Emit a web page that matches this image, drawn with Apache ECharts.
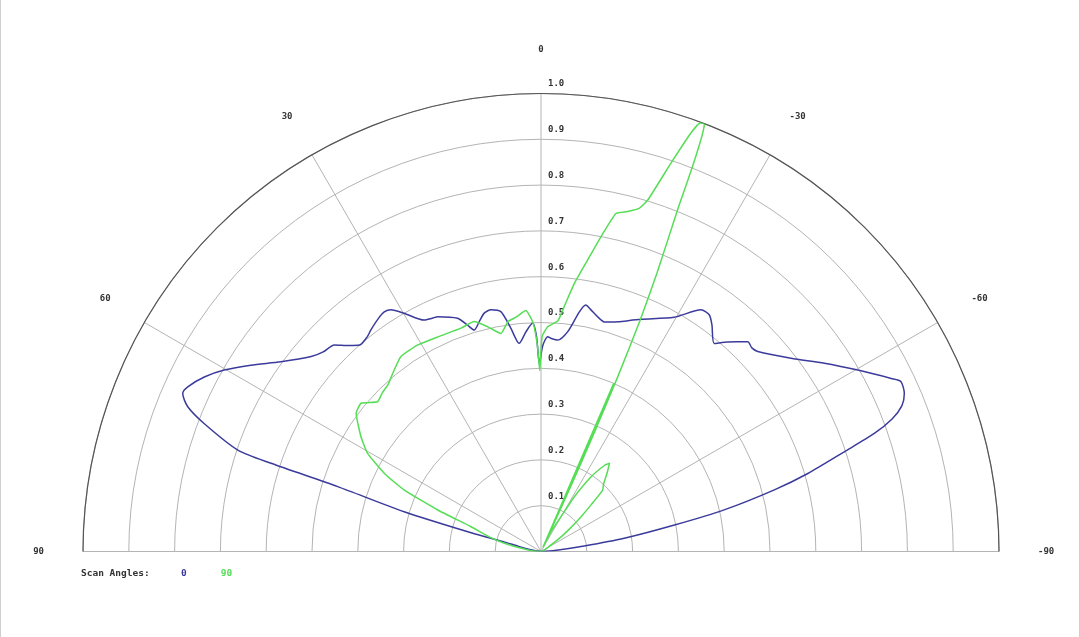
<!DOCTYPE html>
<html><head><meta charset="utf-8">
<script src="https://cdn.jsdelivr.net/npm/echarts@6/dist/echarts.min.js"></script>
<style>
html,body{margin:0;padding:0;background:#fff;}
#c{width:1080px;height:637px;box-sizing:border-box;border-left:1px solid #cfcfcf;border-right:1px solid #cfcfcf;}
</style>
</head><body><div id="c"></div>
<script>
// ---- data ----
const angleTicks = [-90, -60, -30, 0, 30, 60, 90];
const radiusTickLabels = ['', '0.1', '0.2', '0.3', '0.4', '0.5', '0.6', '0.7', '0.8', '0.9', '1.0'];
const scanAngles = ['0', '90'];
const legendTitle = 'Scan Angles:';

// Scan angle 0 (blue): angle in degrees, normalized radius
const blueTheta = [90, 80, 77, 75.6, 75, 73.8, 72.3, 71.9, 71.5, 69.2, 67.7, 66.2, 65, 62.6, 60.2, 57.3, 53.9, 49.7, 47.5, 45, 43, 41.3, 39, 37.5, 35, 33.2, 31.8, 29.9, 26.8, 25, 23.7, 19.7, 18, 16.8, 15, 13.4, 11.7, 9.5, 7.7, 6.0, 3.9, 2.1, 1.2, 0.5, -0.5, -1.8, -3, -4.5, -6.9, -9.1, -10.3, -11.5, -13.6, -15.4, -17, -18.5, -23.3, -29.6, -33.5, -35.4, -37, -39.8, -41.7, -44.6, -46, -47.3, -52.3, -56.4, -60.2, -63.7, -64.7, -66.5, -68, -69.3, -70.5, -71.8, -73.7, -75.2, -77.2, -78.8, -81, -82.8, -86, -90];
const blueR = [0, 0.02, 0.05, 0.08, 0.158, 0.311, 0.466, 0.62, 0.698, 0.787, 0.834, 0.855, 0.851, 0.828, 0.797, 0.753, 0.703, 0.658, 0.645, 0.638, 0.615, 0.600, 0.603, 0.610, 0.62, 0.625, 0.621, 0.600, 0.566, 0.562, 0.560, 0.541, 0.52, 0.505, 0.52, 0.535, 0.539, 0.531, 0.492, 0.457, 0.481, 0.499, 0.47, 0.41, 0.45, 0.469, 0.465, 0.463, 0.483, 0.53, 0.547, 0.54, 0.527, 0.52, 0.524, 0.529, 0.552, 0.588, 0.633, 0.634, 0.62, 0.591, 0.613, 0.643, 0.64, 0.644, 0.690, 0.743, 0.797, 0.853, 0.869, 0.865, 0.85, 0.82, 0.772, 0.697, 0.607, 0.527, 0.41, 0.297, 0.184, 0.095, 0.03, 0];

// Scan angle 90 (green)
const greenTheta = [90, 85, 80, 77.4, 74, 70.5, 68.1, 65.8, 63.5, 60.5, 57.5, 53.2, 50.5, 47.5, 45, 42.6, 39.8, 35.7, 30.8, 25.7, 19.7, 16.2, 13.3, 10.4, 8.2, 6, 3.6, 2, 1, 0.4, -0.3, -1.7, -4.2, -5.5, -7.1, -9.1, -10.8, -12.5, -14.3, -16, -16.9, -18.5, -19.7, -20.4, -20.9, -21.8, -22.6, -23.2, -23.7, -24.1, -24.5, -25, -25.5, -23.4, -25.2, -27, -29.9, -31.3, -33.8, -36.5, -37.8, -40, -43, -45.1, -47, -49, -52, -55, -60, -70, -90];
const greenR = [0, 0.02, 0.05, 0.082, 0.12, 0.162, 0.243, 0.327, 0.382, 0.435, 0.466, 0.504, 0.509, 0.484, 0.49, 0.494, 0.506, 0.524, 0.525, 0.52, 0.518, 0.523, 0.504, 0.484, 0.507, 0.515, 0.527, 0.5, 0.45, 0.395, 0.47, 0.491, 0.505, 0.54, 0.59, 0.645, 0.70, 0.756, 0.766, 0.78, 0.802, 0.894, 0.97, 0.998, 1.0, 0.80, 0.66, 0.55, 0.42, 0.3, 0.17, 0.05, 0.01, 0.40, 0.02, 0.05, 0.088, 0.14, 0.196, 0.235, 0.244, 0.225, 0.2, 0.19, 0.15, 0.116, 0.075, 0.044, 0.015, 0.005, 0];

const blueColor = '#3b3b9c';
const greenColor = '#55dd55';
const monoFont = 'DejaVu Sans Mono';

function pairs(rs, ts) { return rs.map((r, i) => [r, ts[i]]); }

const chart = echarts.init(document.getElementById('c'), null, { renderer: 'canvas' });
const cx = 540, cy = 551.5, R = 458;
chart.setOption({
  animation: false,
  backgroundColor: '#fff',
  title: {
    text: legendTitle, left: 80, top: 569, padding: 0,
    textStyle: { fontFamily: monoFont, fontSize: 9.5, fontWeight: 'bold', color: '#333' }
  },
  legend: {
    left: 175, top: 569, padding: 0, itemWidth: 0, itemHeight: 0, itemGap: 29, icon: 'rect',
    data: [
      { name: scanAngles[0], textStyle: { color: blueColor } },
      { name: scanAngles[1], textStyle: { color: greenColor } }
    ],
    textStyle: { fontFamily: monoFont, fontSize: 9.5, fontWeight: 'bold' },
    selectedMode: false
  },
  polar: [
    { center: [cx, cy], radius: R },
    { center: [cx, cy], radius: R }
  ],
  angleAxis: [
    {
      polarIndex: 0, type: 'value', min: angleTicks[0], max: angleTicks[angleTicks.length - 1], interval: 30,
      startAngle: 0, endAngle: 180, clockwise: false,
      axisLine: { lineStyle: { color: '#555', width: 1.2 } },
      axisTick: { show: false },
      axisLabel: { margin: 39, fontFamily: monoFont, fontSize: 9, fontWeight: 'bold', color: '#333' },
      splitLine: { lineStyle: { color: '#b4b4b4', width: 1 } }
    },
    {
      polarIndex: 1, type: 'value', min: 0, max: 360, startAngle: 90, show: false
    }
  ],
  radiusAxis: [
    {
      polarIndex: 0, type: 'value', min: 0, max: 1, interval: 0.1,
      axisLine: { show: false }, axisTick: { show: false }, axisLabel: { show: false },
      splitLine: { lineStyle: { color: '#b4b4b4', width: 1 } }
    },
    {
      polarIndex: 1, type: 'value', min: 0, max: 1, interval: 0.1,
      axisLine: { show: false }, axisTick: { show: false }, splitLine: { show: false },
      axisLabel: {
        margin: -7, align: 'left', verticalAlign: 'bottom', padding: [0, 0, 5, 0],
        fontFamily: monoFont, fontSize: 9, fontWeight: 'bold', color: '#333',
        formatter: v => radiusTickLabels[Math.round(v * 10)]
      }
    }
  ],
  series: [
    {
      name: scanAngles[0], type: 'line', coordinateSystem: 'polar', polarIndex: 0,
      data: pairs(blueR, blueTheta), showSymbol: false, symbol: 'none', smooth: 0.25,
      lineStyle: { color: blueColor, width: 1.5 }, itemStyle: { color: blueColor }, clip: false
    },
    {
      name: scanAngles[1], type: 'line', coordinateSystem: 'polar', polarIndex: 0,
      data: pairs(greenR, greenTheta), showSymbol: false, symbol: 'none', smooth: 0.15,
      lineStyle: { color: greenColor, width: 1.5 }, itemStyle: { color: greenColor }, clip: false
    }
  ]
});
</script>
</body></html>
